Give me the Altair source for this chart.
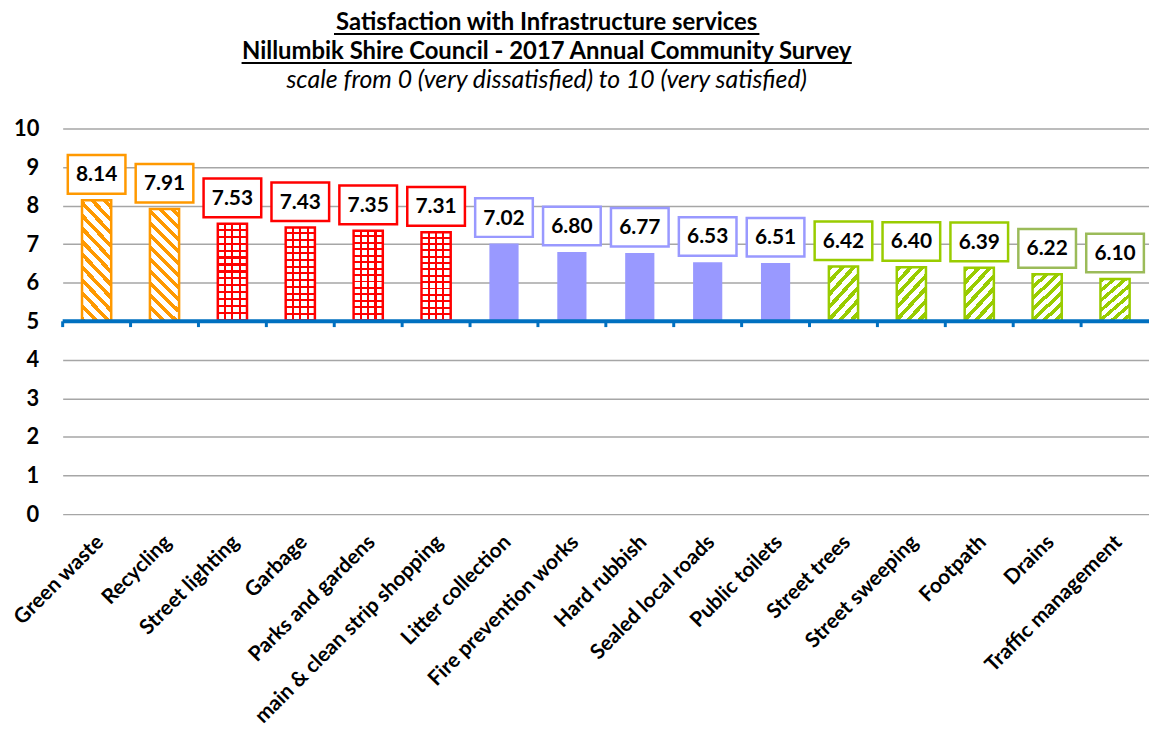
import altair as alt
import pandas as pd

# ---------------- data ----------------
categories = [
    "Green waste", "Recycling", "Street lighting", "Garbage", "Parks and gardens",
    "main & clean strip shopping", "Litter collection", "Fire prevention works",
    "Hard rubbish", "Sealed local roads", "Public toilets", "Street trees",
    "Street sweeping", "Footpath", "Drains", "Traffic management",
]
values = [8.14, 7.91, 7.53, 7.43, 7.35, 7.31, 7.02, 6.80, 6.77, 6.53, 6.51,
          6.42, 6.40, 6.39, 6.22, 6.10]
tiers = [1, 1, 2, 2, 2, 2, 3, 3, 3, 3, 3, 4, 4, 4, 5, 5]
y_ticks = [0, 1, 2, 3, 4, 5, 6, 7, 8, 9, 10]
baseline_value = [5]
title_line1 = "Satisfaction with Infrastructure services"
title_line2 = "Nillumbik Shire Council - 2017 Annual Community Survey"
subtitle_text = "scale from 0 (very dissatisfied) to 10 (very satisfied)"

df = pd.DataFrame({"service": categories, "score": values, "tier": tiers})
base_df = pd.DataFrame({"base": baseline_value})
one_df = pd.DataFrame({"u": [0]})

# ---------------- style ----------------
W, H = 1093, 388
STEP = W / len(categories)
FONT = "Lato"
ORANGE, RED, PURPLE, GREEN, GREEN2, BLUE = "#FF9900", "#FF0000", "#9999FF", "#99CC00", "#9BBB59", "#0070C0"
WHITE, CLEAR = "#FFFFFF", "rgba(255,255,255,0)"
TCX = 487  # title centre, relative to plot left


def stripes(color, gap, n, frac):
    stops = []
    for i in range(n):
        a, b, c = i / n, (i + frac) / n, (i + 1) / n
        stops += [{"offset": a, "color": color}, {"offset": b, "color": color},
                  {"offset": b, "color": gap}, {"offset": c, "color": gap}]
    return stops


orange_fill = {"gradient": "linear", "x1": 0, "y1": 1, "x2": 0.306, "y2": -0.2,
               "stops": stripes(ORANGE, WHITE, 12, 0.42)}
green_fill = {"gradient": "linear", "x1": 0, "y1": 0, "x2": 0.708, "y2": 1.2,
              "stops": stripes(GREEN, WHITE, 7, 0.45)}
vstops = [{"offset": 0, "color": WHITE}]
for p in (0.25, 0.5, 0.75):
    vstops += [{"offset": p - 0.035, "color": WHITE}, {"offset": p - 0.035, "color": RED},
               {"offset": p + 0.035, "color": RED}, {"offset": p + 0.035, "color": WHITE}]
vstops += [{"offset": 1, "color": WHITE}]
red_v_fill = {"gradient": "linear", "x1": 0, "y1": 0, "x2": 1, "y2": 0, "stops": vstops}
red_h_fill = {"gradient": "linear", "x1": 0, "y1": 1, "x2": 0, "y2": 0,
              "stops": stripes(RED, CLEAR, 14, 0.3)}

y_axis = alt.Axis(title=None, values=y_ticks, labelFont=FONT, labelFontSize=22,
                  labelFontWeight="bold", labelColor="black", ticks=False,
                  tickSize=0, domain=False, labelPadding=24, labelOverlap=False,
                  grid=True, gridColor="#A6A6A6", gridWidth=1.5)
y_scale = alt.Scale(domain=[0, 10], nice=False, zero=True)

x_enc = alt.X("service:N", sort=categories,
              scale=alt.Scale(paddingInner=0.57, paddingOuter=0.285),
              axis=alt.Axis(title=None, labelAngle=-45, labelFont=FONT, labelFontSize=21,
                            labelFontWeight="bold", labelColor="black", ticks=False,
                            tickSize=0, domain=False, labelPadding=17, labelOffset=-4,
                            labelLimit=400, labelOverlap=False))
y_enc = alt.Y("score:Q", scale=y_scale, axis=y_axis)

base = alt.Chart(df).encode(x=x_enc, y=y_enc)

orange_bars = base.transform_filter("datum.tier == 1").mark_bar(
    fill=orange_fill, stroke=ORANGE, strokeWidth=2.5).encode(y2=alt.datum(5))
red_bars_v = base.transform_filter("datum.tier == 2").mark_bar(
    fill=red_v_fill).encode(y2=alt.datum(5))
red_bars_h = base.transform_filter("datum.tier == 2").mark_bar(
    fill=red_h_fill, stroke=RED, strokeWidth=2.5).encode(y2=alt.datum(5))
purple_bars = base.transform_filter("datum.tier == 3").mark_bar(
    fill=PURPLE).encode(y2=alt.datum(5))
green_bars = base.transform_filter("datum.tier >= 4").mark_bar(
    fill=green_fill, stroke=GREEN, strokeWidth=2.5).encode(y2=alt.datum(5))

baseline = alt.Chart(base_df).mark_rule(color=BLUE, strokeWidth=4).encode(
    y=alt.Y("base:Q", scale=y_scale, axis=y_axis), x=alt.value(0), x2=alt.value(W))
ticks = alt.Chart(df).mark_rule(color=BLUE, strokeWidth=3, xOffset=-STEP / 2).encode(
    x=alt.X("service:N", sort=categories),
    y=alt.Y(datum=5, scale=y_scale, axis=y_axis), y2=alt.datum(4.85))

BOX_PATH = "M-1,-0.67L1,-0.67L1,0.67L-1,0.67Z"
boxes = base.mark_point(shape=BOX_PATH, size=58 * 58, filled=True, fill="white",
                        opacity=1, fillOpacity=1, strokeOpacity=1, strokeWidth=2.5,
                        yOffset=-26).encode(
    stroke=alt.Stroke("tier:O", legend=None,
                      scale=alt.Scale(domain=[1, 2, 3, 4, 5],
                                      range=[ORANGE, RED, PURPLE, GREEN, GREEN2])))
labels = base.mark_text(font=FONT, fontSize=21, fontWeight="bold", color="black",
                        baseline="middle", yOffset=-25).encode(
    text=alt.Text("score:Q", format=".2f"))

# ---------------- title (as text, underlined) ----------------
t_df = pd.DataFrame({"line": [title_line1, title_line2, subtitle_text]})


def title_text(i, y, size, weight, style):
    return alt.Chart(t_df).transform_filter(f"datum.line == {t_df.line[i]!r}").mark_text(
        font=FONT, fontSize=size, fontWeight=weight, fontStyle=style, color="black",
        align="center", baseline="alphabetic").encode(
        text="line:N", x=alt.value(TCX), y=alt.value(y))


t1 = title_text(0, -99, 24, "bold", "normal")
t2 = title_text(1, -70, 24, "bold", "normal")
t3 = title_text(2, -41, 25, "normal", "italic")

under1 = alt.Chart(one_df).mark_rule(color="black", strokeWidth=2).encode(
    x=alt.value(273), x2=alt.value(701), y=alt.value(-95))
under2 = alt.Chart(one_df).mark_rule(color="black", strokeWidth=2).encode(
    x=alt.value(180), x2=alt.value(794), y=alt.value(-66))

chart = alt.layer(
    orange_bars, red_bars_v, red_bars_h, purple_bars, green_bars,
    baseline, ticks, boxes, labels, t1, t2, t3, under1, under2,
).properties(
    width=W, height=H,
    autosize=alt.AutoSizeParams(type="none"),
    padding={"left": 55, "top": 119, "right": 0, "bottom": 220},
).configure_view(stroke=None)

chart.save("out.html", embed_options={"renderer": "svg", "actions": False})
